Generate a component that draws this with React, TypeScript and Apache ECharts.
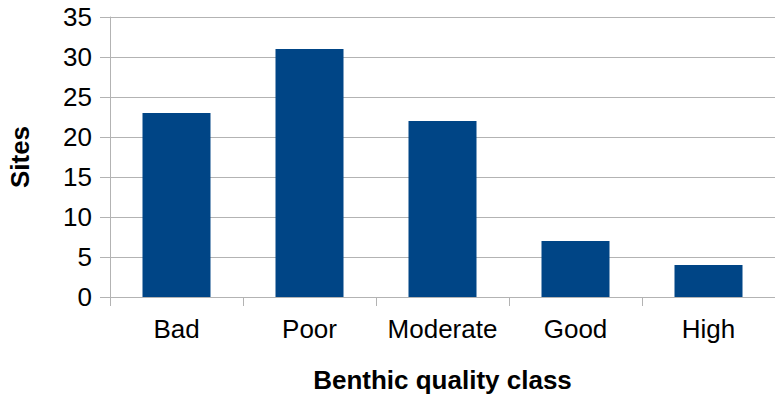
import React, { useEffect, useRef } from "react";
import * as echarts from "echarts";

const categories = ["Bad", "Poor", "Moderate", "Good", "High"];
const siteCounts = [23, 31, 22, 7, 4];
const yMin = 0;
const yMax = 35;
const yStep = 5;

const FONT = "'Liberation Sans', Arial, sans-serif";
const GRID_COLOR = "#b3b3b3";
const BAR_COLOR = "#004586";

export default function App() {
  const ref = useRef<HTMLDivElement>(null);

  useEffect(() => {
    if (!ref.current) return;
    const chart = echarts.init(ref.current, undefined, { renderer: "svg" });
    chart.setOption({
      animation: false,
      backgroundColor: "#ffffff",
      grid: {
        left: 110,
        right: 0,
        top: 17,
        bottom: 99,
        containLabel: false,
        outerBoundsMode: "none",
      },
      xAxis: {
        type: "category",
        data: categories,
        name: "Benthic quality class",
        nameLocation: "middle",
        nameGap: 70,
        nameTextStyle: { fontFamily: FONT, fontSize: 26, fontWeight: "bold", color: "#000" },
        axisLine: { show: true, lineStyle: { color: GRID_COLOR, width: 1 } },
        axisTick: { show: true, interval: 0, length: 9, lineStyle: { color: GRID_COLOR } },
        axisLabel: { interval: 0, fontFamily: FONT, fontSize: 26, color: "#000", margin: 19 },
      },
      yAxis: {
        type: "value",
        min: yMin,
        max: yMax,
        interval: yStep,
        name: "Sites",
        nameLocation: "middle",
        nameGap: 77,
        nameTextStyle: { fontFamily: FONT, fontSize: 26, fontWeight: "bold", color: "#000" },
        axisLine: { show: true, lineStyle: { color: GRID_COLOR, width: 1 } },
        axisTick: { show: true, length: 10, lineStyle: { color: GRID_COLOR } },
        axisLabel: { fontFamily: FONT, fontSize: 26, color: "#000", margin: 18 },
        splitLine: { show: true, lineStyle: { color: GRID_COLOR, width: 1 } },
      },
      series: [
        {
          type: "bar",
          data: siteCounts,
          barWidth: 68,
          itemStyle: { color: BAR_COLOR },
        },
      ],
    });
    return () => chart.dispose();
  }, []);

  return (
    <div
      ref={ref}
      style={{ position: "absolute", left: 0, top: 0, width: 775, height: 396 }}
    />
  );
}
